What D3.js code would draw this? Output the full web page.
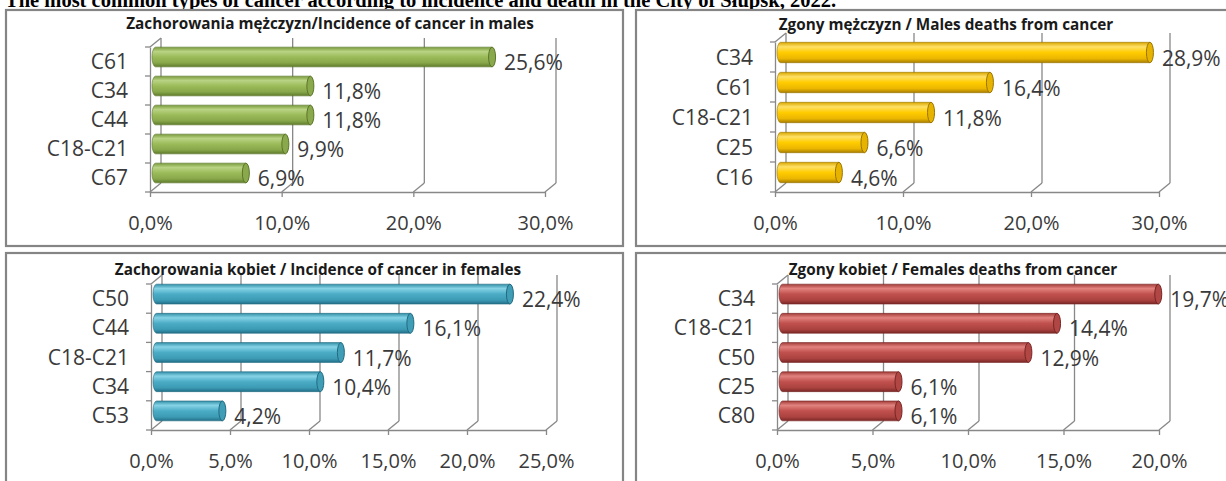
<!DOCTYPE html>
<html><head><meta charset="utf-8">
<script src="https://cdn.jsdelivr.net/npm/d3@7"></script>
<style>body{margin:0;background:#fff;overflow:hidden} svg{display:block}</style>
</head><body>
<svg id="c" width="1226" height="481"></svg>
<script>
const mainTitle = "The most common types of cancer according to incidence and death in the City of Słupsk, 2022.";
const panelTitles = [
  "Zachorowania mężczyzn/Incidence of cancer in males",
  "Zgony mężczyzn / Males deaths from cancer",
  "Zachorowania kobiet / Incidence of cancer in females",
  "Zgony kobiet / Females deaths from cancer"
];
const maleIncidenceCategories = ["C61", "C34", "C44", "C18-C21", "C67"];
const maleIncidenceValues = [25.6, 11.8, 11.8, 9.9, 6.9];
const maleDeathCategories = ["C34", "C61", "C18-C21", "C25", "C16"];
const maleDeathValues = [28.9, 16.4, 11.8, 6.6, 4.6];
const femaleIncidenceCategories = ["C50", "C44", "C18-C21", "C34", "C53"];
const femaleIncidenceValues = [22.4, 16.1, 11.7, 10.4, 4.2];
const femaleDeathCategories = ["C34", "C18-C21", "C50", "C25", "C80"];
const femaleDeathValues = [19.7, 14.4, 12.9, 6.1, 6.1];
const maleIncidenceTicks = [0, 10, 20, 30];
const maleDeathTicks = [0, 10, 20, 30];
const femaleIncidenceTicks = [0, 5, 10, 15, 20, 25];
const femaleDeathTicks = [0, 5, 10, 15, 20];

const fmt = v => v.toFixed(1).replace(".", ",") + "%";
const svg = d3.select("#c");
const defs = svg.append("defs");

const palettes = {
  green:  {stops:["#7a9a3c","#b9d384","#9bbb59","#87a74a","#5e7a2b"], cap:"#8aa94d", edge:"#5b7628"},
  yellow: {stops:["#d8a600","#ffe066","#ffcc00","#ebb600","#a67d00"], cap:"#e6b400", edge:"#9a7300"},
  blue:   {stops:["#3390a8","#86d3e6","#4bacc6","#3d9bb4","#22708a"], cap:"#3f9db6", edge:"#226a80"},
  red:    {stops:["#a23c39","#e2837f","#c0504d","#ab4340","#7c2826"], cap:"#b04744", edge:"#762523"}
};
Object.entries(palettes).forEach(([k, p]) => {
  const lg = defs.append("linearGradient").attr("id", "g-" + k)
    .attr("x1", 0).attr("y1", 0).attr("x2", 0).attr("y2", 1);
  [0, 0.22, 0.5, 0.8, 1].forEach((o, i) => lg.append("stop").attr("offset", o).attr("stop-color", p.stops[i]));
});

// main title (partially cut at top, as in the source)
svg.append("text").attr("x", 5).attr("y", 7)
  .attr("font-family", "Liberation Serif, serif").attr("font-weight", "bold")
  .attr("font-size", 20.5).attr("fill", "#000").text(mainTitle);

const panels = [
  {title: panelTitles[0], categories: maleIncidenceCategories, values: maleIncidenceValues, ticks: maleIncidenceTicks,
   color: "green", frame: [6, 10, 617, 236], x0: 150, x1: 545, yTop: 47, yBot: 192, tx: 330, ty: 29},
  {title: panelTitles[1], categories: maleDeathCategories, values: maleDeathValues, ticks: maleDeathTicks,
   color: "yellow", frame: [636, 10, 620, 236], x0: 775, x1: 1159, yTop: 42, yBot: 192, tx: 946, ty: 30},
  {title: panelTitles[2], categories: femaleIncidenceCategories, values: femaleIncidenceValues, ticks: femaleIncidenceTicks,
   color: "blue", frame: [6, 253, 617, 240], x0: 151, x1: 546, yTop: 284, yBot: 430, tx: 318, ty: 275},
  {title: panelTitles[3], categories: femaleDeathCategories, values: femaleDeathValues, ticks: femaleDeathTicks,
   color: "red", frame: [636, 253, 620, 240], x0: 777, x1: 1159, yTop: 284, yBot: 430, tx: 953, ty: 275}
];

const DX = 11, DY = -9;
const gridColor = "#888888";
const textColor = "#3a3a3a";
const font = "Open Sans, sans-serif";

panels.forEach(p => {
  const g = svg.append("g");
  const max = p.ticks[p.ticks.length - 1];
  const x = d3.scaleLinear().domain([0, max]).range([p.x0, p.x1]);
  const y = d3.scaleBand().domain(p.categories).range([p.yTop, p.yBot]);

  // frame
  g.append("rect").attr("x", p.frame[0]).attr("y", p.frame[1])
    .attr("width", p.frame[2]).attr("height", p.frame[3])
    .attr("fill", "#fff").attr("stroke", "#858585").attr("stroke-width", 2.2);

  // back-wall gridlines and floor diagonals
  p.ticks.forEach(t => {
    g.append("line").attr("x1", x(t) + DX).attr("x2", x(t) + DX)
      .attr("y1", p.yBot + DY).attr("y2", p.yTop + DY)
      .attr("stroke", gridColor).attr("stroke-width", 1.3);
    g.append("line").attr("x1", x(t)).attr("y1", p.yBot)
      .attr("x2", x(t) + DX).attr("y2", p.yBot + DY)
      .attr("stroke", gridColor).attr("stroke-width", 1.3);
  });
  // left wall top diagonal
  g.append("line").attr("x1", p.x0).attr("y1", p.yTop)
    .attr("x2", p.x0 + DX).attr("y2", p.yTop + DY)
    .attr("stroke", gridColor).attr("stroke-width", 1.3);

  // panel title
  g.append("text").attr("x", p.tx).attr("y", p.ty).attr("text-anchor", "middle")
    .attr("font-family", font).attr("font-weight", "bold").attr("font-size", 15.3)
    .attr("fill", "#1a1a1a").text(p.title);

  // bottom axis
  const ax = g.append("g").attr("transform", `translate(0,${p.yBot})`)
    .call(d3.axisBottom(x).tickValues(p.ticks).tickFormat(fmt).tickSize(5).tickSizeOuter(0));
  ax.select(".domain").attr("stroke", gridColor).attr("stroke-width", 1.3);
  ax.selectAll(".tick line").attr("stroke", gridColor).attr("stroke-width", 1.3);
  ax.selectAll(".tick text").attr("y", 38).attr("dy", null)
    .attr("font-family", font).attr("font-size", 20).attr("fill", textColor);

  // left axis
  const ay = g.append("g").attr("transform", `translate(${p.x0},0)`)
    .call(d3.axisLeft(y).tickSize(0).tickSizeOuter(0).tickPadding(22));
  ay.select(".domain").attr("stroke", gridColor).attr("stroke-width", 1.3);
  ay.selectAll(".tick text").attr("dy", "0.36em")
    .attr("font-family", font).attr("font-size", 21).attr("fill", textColor);
  // category boundary ticks
  d3.range(p.categories.length + 1).forEach(i => {
    const yy = p.yTop + i * y.step();
    g.append("line").attr("x1", p.x0 - 5).attr("x2", p.x0).attr("y1", yy).attr("y2", yy)
      .attr("stroke", gridColor).attr("stroke-width", 1.3);
  });

  // cylinder bars
  const pal = palettes[p.color];
  const data = p.values.map((v, i) => ({c: p.categories[i], v}));
  const h = y.bandwidth() * 0.68, rx = 3.5;
  const bars = g.selectAll(".bar").data(data).join("g").attr("class", "bar");
  bars.append("path")
    .attr("d", d => {
      const cy = y(d.c) + y.bandwidth() / 2 + DY / 2;
      const xs = p.x0 + 2 + rx, xe = x(d.v) + 5;
      const t = cy - h / 2, b = cy + h / 2;
      return `M${xs},${t} L${xe},${t} L${xe},${b} L${xs},${b} A${rx},${h/2} 0 0 1 ${xs},${t} Z`;
    })
    .attr("fill", `url(#g-${p.color})`).attr("stroke", pal.edge).attr("stroke-width", 0.6);
  bars.append("ellipse")
    .attr("cx", d => x(d.v) + 5)
    .attr("cy", d => y(d.c) + y.bandwidth() / 2 + DY / 2)
    .attr("rx", rx).attr("ry", h / 2)
    .attr("fill", pal.cap).attr("stroke", pal.edge).attr("stroke-width", 1);

  // value labels
  g.selectAll(".val").data(data).join("text").attr("class", "val")
    .attr("x", d => x(d.v) + 17)
    .attr("y", d => y(d.c) + y.bandwidth() / 2 + 1)
    .attr("dy", "0.36em")
    .attr("font-family", font).attr("font-size", 21).attr("fill", textColor)
    .text(d => fmt(d.v));
});
</script>
</body></html>
